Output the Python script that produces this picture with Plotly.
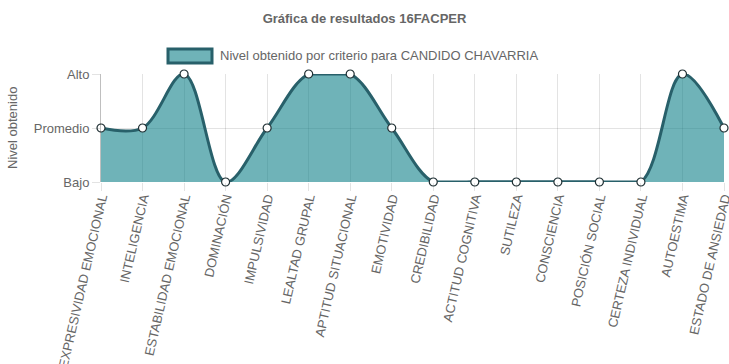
import plotly.graph_objects as go

categories = ["EXPRESIVIDAD EMOCIONAL", "INTELIGENCIA", "ESTABILIDAD EMOCIONAL", "DOMINACIÓN",
              "IMPULSIVIDAD", "LEALTAD GRUPAL", "APTITUD SITUACIONAL", "EMOTIVIDAD",
              "CREDIBILIDAD", "ACTITUD COGNITIVA", "SUTILEZA", "CONSCIENCIA",
              "POSICIÓN SOCIAL", "CERTEZA INDIVIDUAL", "AUTOESTIMA", "ESTADO DE ANSIEDAD"]
values = [1, 1, 2, 0, 1, 2, 2, 1, 0, 0, 0, 0, 0, 0, 2, 1]
level_values = [0, 1, 2]
level_labels = ["Bajo", "Promedio", "Alto"]
series_name = "Nivel obtenido por criterio para CANDIDO CHAVARRIA"
title_text = "Gráfica de resultados 16FACPER"
y_title = "Nivel obtenido"

FONT = "Liberation Sans, Arial, Helvetica, sans-serif"
FILL = "rgba(15,128,137,0.6)"
LEGEND_FILL = "rgb(111,179,184)"
LINE = "#28606a"
GRID = "rgba(0,0,0,0.11)"

L, R, T, B = 101, 724, 74, 182
W, H = 729, 364
PW, PH = R - L, B - T
ymin, ymax = min(level_values), max(level_values)

# flat runs lying on the axis limits (Chart.js caps its curve there)
flat = [None] * len(values)
for i in range(len(values) - 1):
    if values[i] == values[i + 1] and values[i] in (ymin, ymax):
        flat[i] = values[i]
        flat[i + 1] = values[i + 1]

fig = go.Figure()
fig.add_trace(go.Scatter(
    x=categories, y=values, mode="lines",
    line=dict(color=LINE, width=3, shape="spline", smoothing=1.0),
    fill="tozeroy", fillcolor=FILL,
    showlegend=False, name=series_name, hoverinfo="skip",
))
fig.add_trace(go.Scatter(
    x=categories, y=flat, mode="lines", connectgaps=False,
    line=dict(color=LINE, width=3, shape="linear"),
    showlegend=False, hoverinfo="skip",
))
fig.add_trace(go.Scatter(
    x=categories, y=values, mode="markers",
    marker=dict(size=8, color="white", line=dict(color="#1f2f33", width=1.2)),
    cliponaxis=False, showlegend=False, name=series_name,
))

fig.update_layout(
    width=W, height=H,
    margin=dict(l=L, r=W - R, t=T, b=H - B, autoexpand=False),
    paper_bgcolor="white", plot_bgcolor="white",
    font=dict(family=FONT, color="#666", size=13),
    title=dict(text="<b>" + title_text + "</b>", x=0.5, xanchor="center",
               y=1 - 18 / H, yanchor="middle", yref="container",
               font=dict(size=13, color="#666", family=FONT)),
    xaxis=dict(
        type="category", automargin=False,
        tickangle=-77, tickfont=dict(size=13, color="#666"),
        showgrid=True, gridcolor=GRID, gridwidth=1,
        ticks="outside", ticklen=8, tickcolor=GRID,
        ticklabelstandoff=-6,
        showline=False, zeroline=False, range=[0, len(categories) - 1],
    ),
    yaxis=dict(
        automargin=False,
        range=[ymin, ymax], tickvals=level_values, ticktext=level_labels,
        tickfont=dict(size=13, color="#666"),
        showgrid=True, gridcolor=GRID, gridwidth=1,
        ticks="outside", ticklen=8, tickcolor=GRID,
        showline=True, linecolor="rgba(0,0,0,0.25)", linewidth=1,
        zeroline=False,
    ),
)

# y axis title
fig.add_annotation(xref="paper", yref="paper", x=(12 - L) / PW, y=0.5,
                   text=y_title, textangle=-90, showarrow=False,
                   xanchor="center", yanchor="middle",
                   font=dict(size=13, color="#666", family=FONT))

# legend box drawn as shape + text annotation
fig.add_shape(type="rect", xref="paper", yref="paper",
              x0=(168 - L) / PW, x1=(212 - L) / PW,
              y0=(B - 49) / PH, y1=(B - 63) / PH,
              fillcolor=LEGEND_FILL, line=dict(color=LINE, width=3))
fig.add_annotation(xref="paper", yref="paper", x=(218 - L) / PW, y=(B - 56) / PH,
                   text=series_name, showarrow=False, xanchor="left", yanchor="middle",
                   font=dict(size=13, color="#666", family=FONT))

fig.write_html("out.html", config={"displayModeBar": False},
               post_script="document.body.style.margin='0';")
